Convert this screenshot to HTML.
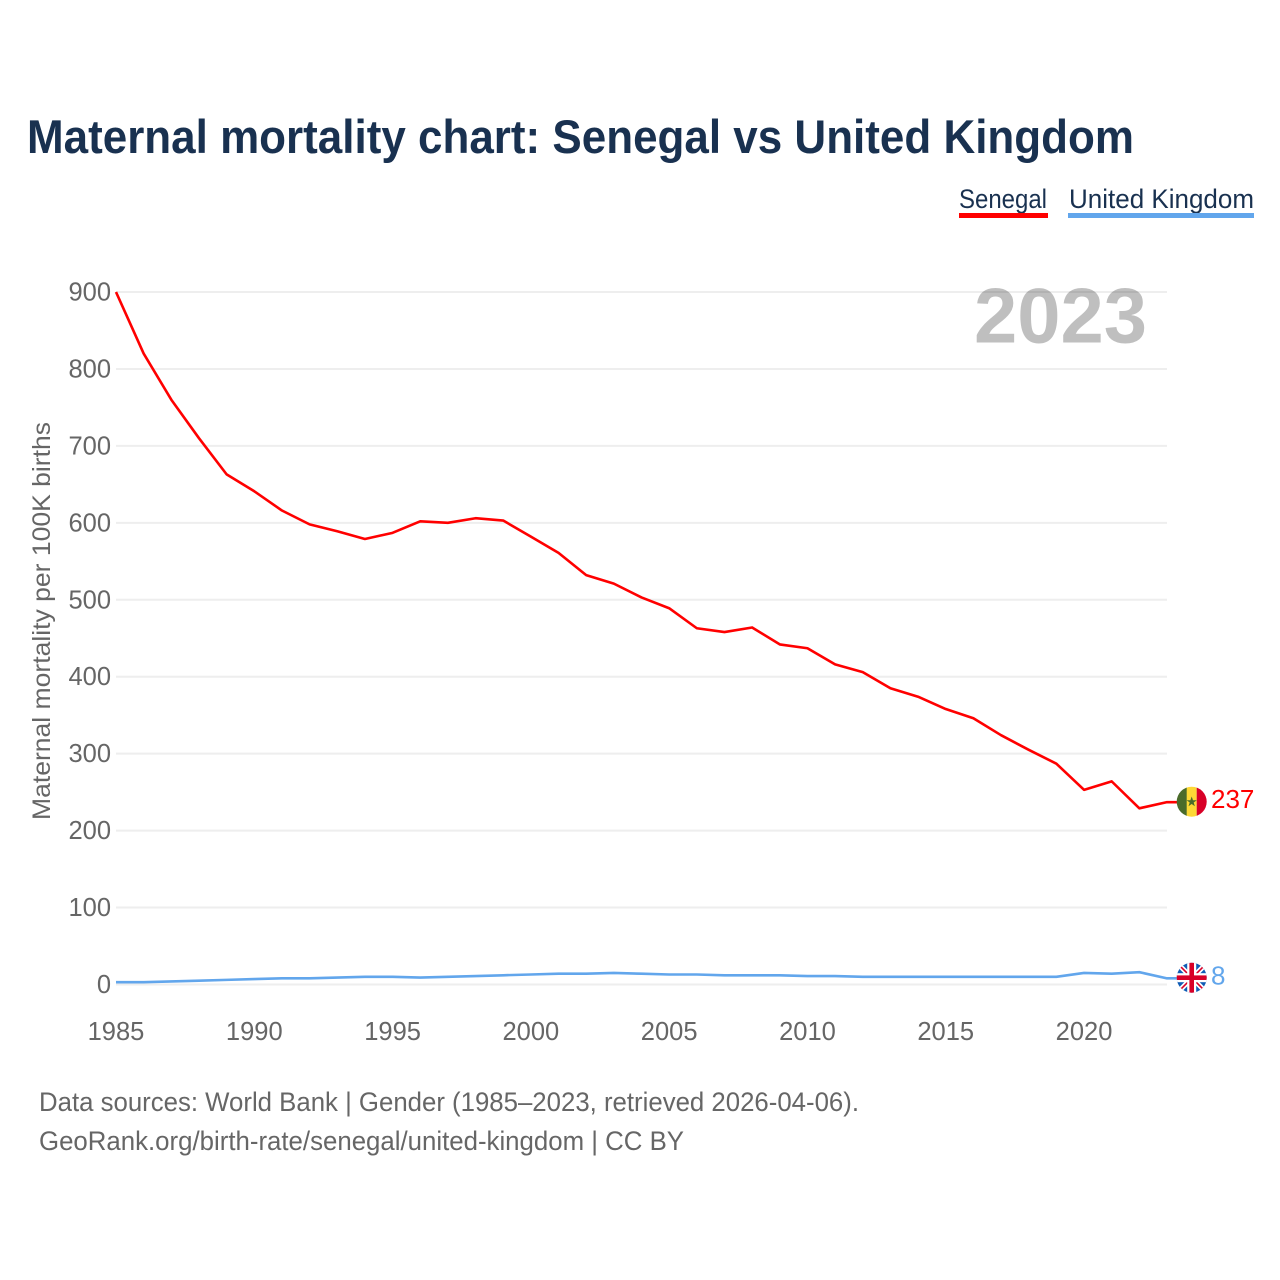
<!DOCTYPE html>
<html lang="en">
<head>
<meta charset="utf-8">
<title>Maternal mortality chart: Senegal vs United Kingdom</title>
<style>
html,body{margin:0;padding:0;background:#fff;width:1280px;height:1280px;overflow:hidden}
svg{display:block;font-family:"Liberation Sans",sans-serif}
</style>
</head>
<body>
<svg id="chart" xmlns="http://www.w3.org/2000/svg" width="1280" height="1280" viewBox="0 0 1280 1280">
  <defs>
    <clipPath id="clip-sn"><circle cx="1191.7" cy="801.7" r="15"/></clipPath>
    <clipPath id="clip-uk"><circle cx="1191.7" cy="977.7" r="15"/></clipPath>
  </defs>
  <rect width="1280" height="1280" fill="#fff"/>
  <text x="27" y="153" font-size="47" font-weight="700" fill="#193150" textLength="1107" lengthAdjust="spacingAndGlyphs">Maternal mortality chart: Senegal vs United Kingdom</text>

  <g>
    <text x="959" y="208" font-size="27" fill="#193150" textLength="88" lengthAdjust="spacingAndGlyphs">Senegal</text>
    <rect x="959" y="213" width="89" height="5" fill="#ff0000"/>
  </g>
  <g>
    <text x="1069" y="208" font-size="27" fill="#193150" textLength="185" lengthAdjust="spacingAndGlyphs">United Kingdom</text>
    <rect x="1068" y="213" width="186" height="5" fill="#62a6ec"/>
  </g>

  <g id="grid"></g>
  <g id="yticks"></g>
  <g id="xticks"></g>
  <text transform="translate(50 621) rotate(-90)" text-anchor="middle" font-size="25" fill="#666" textLength="398" lengthAdjust="spacingAndGlyphs">Maternal mortality per 100K births</text>

  <text x="974" y="342.5" font-size="78" font-weight="700" fill="#000" fill-opacity="0.25" textLength="173" lengthAdjust="spacingAndGlyphs">2023</text>

  <g id="series"></g>

  <g clip-path="url(#clip-sn)">
    <rect x="1176" y="786" width="11" height="32" fill="#4a6b2a"/>
    <rect x="1186.7" y="786" width="10" height="32" fill="#fdd835"/>
    <rect x="1196.7" y="786" width="11" height="32" fill="#d80027"/>
    <polygon points="1191.7,796.5 1193,800.2 1196.8,800.2 1193.7,802.5 1194.9,806.2 1191.7,804 1188.5,806.2 1189.7,802.5 1186.6,800.2 1190.4,800.2" fill="#4a6b2a"/>
  </g>
  <g clip-path="url(#clip-uk)">
    <rect x="1176" y="962" width="32" height="32" fill="#0f5cb5"/>
    <path d="M1176 962 L1208 994 M1208 962 L1176 994" stroke="#fff" stroke-width="5"/>
    <path d="M1176 962 L1208 994 M1208 962 L1176 994" stroke="#d80027" stroke-width="1.6"/>
    <rect x="1176" y="973.2" width="32" height="9" fill="#fff"/>
    <rect x="1187.2" y="962" width="9" height="32" fill="#fff"/>
    <rect x="1176" y="975.4" width="32" height="4.6" fill="#d80027"/>
    <rect x="1189.4" y="962" width="4.6" height="32" fill="#d80027"/>
  </g>

  <text id="end-sn" x="1211" y="808" font-size="26" fill="#ff0000"></text>
  <text id="end-uk" x="1211" y="984.5" font-size="26" fill="#62a6ec"></text>

  <text x="39" y="1111" font-size="27" fill="#666" textLength="820" lengthAdjust="spacingAndGlyphs">Data sources: World Bank | Gender (1985–2023, retrieved 2026-04-06).</text>
  <text x="39" y="1150" font-size="27" fill="#666" textLength="645" lengthAdjust="spacingAndGlyphs">GeoRank.org/birth-rate/senegal/united-kingdom | CC BY</text>
</svg>
<script>
const years = [1985,1986,1987,1988,1989,1990,1991,1992,1993,1994,1995,1996,1997,1998,1999,2000,2001,2002,2003,2004,2005,2006,2007,2008,2009,2010,2011,2012,2013,2014,2015,2016,2017,2018,2019,2020,2021,2022,2023];
const senegal = [900,820,760,710,663,641,616,598,589,579,587,602,600,606,603,582,561,532,521,503,489,463,458,464,442,437,416,406,385,374,358,346,324,305,287,253,264,229,237];
const unitedKingdom = [3,3,4,5,6,7,8,8,9,10,10,9,10,11,12,13,14,14,15,14,13,13,12,12,12,11,11,10,10,10,10,10,10,10,10,15,14,16,8];
const yTicks = [0,100,200,300,400,500,600,700,800,900];
const xTicks = [1985,1990,1995,2000,2005,2010,2015,2020];

const NS = 'http://www.w3.org/2000/svg';
function xScale(year){ return 116 + (year - 1985) * (1167 - 116) / (2023 - 1985); }
function yScale(value){ return 984.5 - value * (984.5 - 292) / 900; }
function make(tag, parent){ const el = document.createElementNS(NS, tag); parent.appendChild(el); return el; }

const grid = document.getElementById('grid');
const yGroup = document.getElementById('yticks');
const xGroup = document.getElementById('xticks');
const seriesGroup = document.getElementById('series');

yTicks.forEach(function(t){
  const line = make('line', grid);
  
  
  line.setAttribute('x1', 116);
  line.setAttribute('x2', 1167);
  line.setAttribute('y1', yScale(t));
  line.setAttribute('y2', yScale(t));
  line.setAttribute('stroke', '#eeeeee');
  line.setAttribute('stroke-width', 2);
  const label = make('text', yGroup);
  
  
  label.setAttribute('x', 111);
  label.setAttribute('y', yScale(t) + 8.5);
  label.setAttribute('text-anchor', 'end');
  label.setAttribute('font-size', 25.5);
  label.setAttribute('fill', '#666');
  label.textContent = t;
});

xTicks.forEach(function(t){
  const label = make('text', xGroup);
  
  
  label.setAttribute('x', xScale(t));
  label.setAttribute('y', 1040);
  label.setAttribute('text-anchor', 'middle');
  label.setAttribute('font-size', 25.5);
  label.setAttribute('fill', '#666');
  label.textContent = t;
});

function drawSeries(values, color){
  const pts = values.map(function(v, i){ return xScale(years[i]).toFixed(2) + ',' + yScale(v).toFixed(2); });
  const last = values[values.length - 1];
  pts.push((xScale(years[years.length - 1]) + 10).toFixed(2) + ',' + yScale(last).toFixed(2));
  const line = make('polyline', seriesGroup);
  
  
  line.setAttribute('points', pts.join(' '));
  line.setAttribute('fill', 'none');
  line.setAttribute('stroke', color);
  line.setAttribute('stroke-width', 2.6);
  line.setAttribute('stroke-linejoin', 'round');
}
drawSeries(unitedKingdom, '#62a6ec');
drawSeries(senegal, '#ff0000');

document.getElementById('end-sn').textContent = senegal[senegal.length - 1];
document.getElementById('end-uk').textContent = unitedKingdom[unitedKingdom.length - 1];
</script>
</body>
</html>
